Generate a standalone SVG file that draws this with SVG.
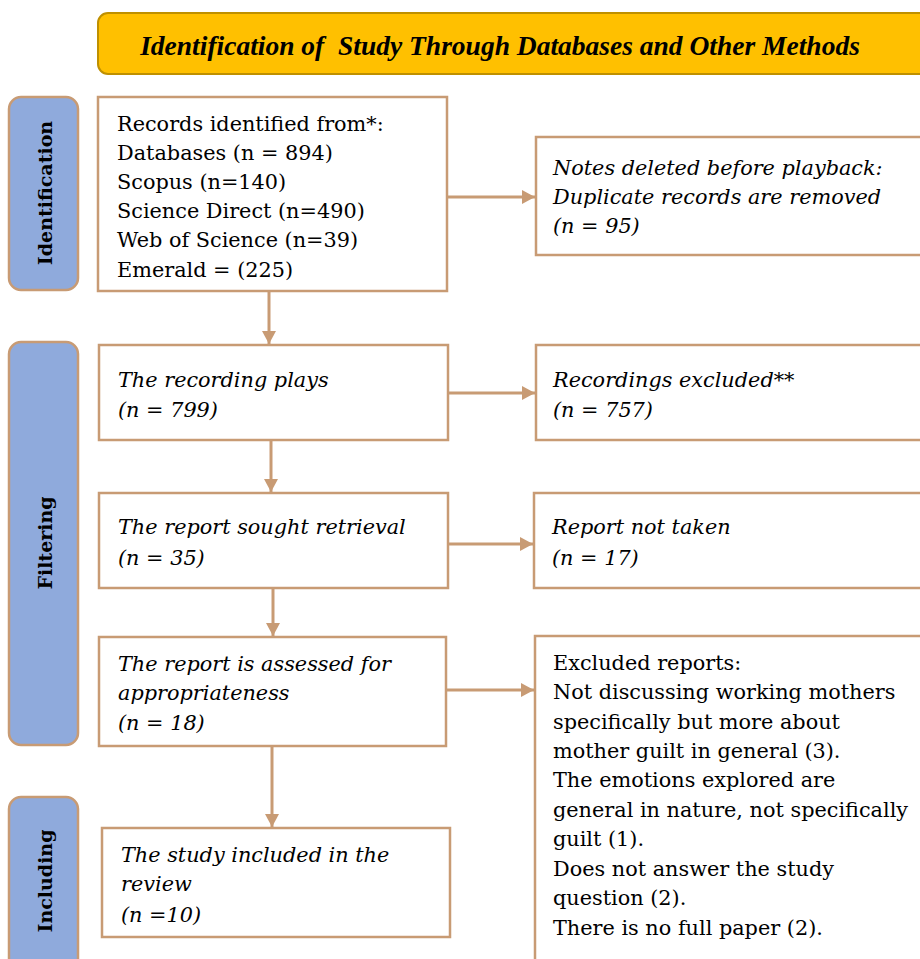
<svg xmlns="http://www.w3.org/2000/svg" width="920" height="959" viewBox="0 0 920 959">
<style>
.box{fill:#fff;stroke:#C89B74;stroke-width:2.5}
.side{fill:#8FAADC;stroke:#C89B74;stroke-width:2.5}
.t{font-family:"DejaVu Serif","Liberation Serif",serif;font-size:20.8px;fill:#000}
.i{font-style:italic}
.sl{font-family:"DejaVu Serif","Liberation Serif",serif;font-size:19px;font-weight:bold;fill:#000}
.c{stroke:#C89B74;stroke-width:3;fill:none}
</style>
<defs>
<marker id="ah" markerUnits="userSpaceOnUse" markerWidth="14" markerHeight="14" refX="13" refY="7" orient="auto">
<path d="M0,0 L13,7 L0,14 z" fill="#C89B74"/>
</marker>
</defs>
<g id="title">
<rect x="98" y="13" width="840" height="61" rx="10" fill="#FFC000" stroke="#BF9000" stroke-width="2"/>
<text x="500" y="55" text-anchor="middle" xml:space="preserve" font-family="Liberation Serif, serif" font-size="27.5" font-weight="bold" font-style="italic">Identification of  Study Through Databases and Other Methods</text>
</g>
<g id="side-identification">
<rect class="side" x="9" y="97" width="69" height="193" rx="12"/>
<text class="sl" transform="translate(52,193) rotate(-90)" text-anchor="middle">Identification</text>
</g>
<g id="side-filtering">
<rect class="side" x="9" y="342" width="69" height="403" rx="12"/>
<text class="sl" transform="translate(52,543) rotate(-90)" text-anchor="middle">Filtering</text>
</g>
<g id="side-including">
<rect class="side" x="9" y="797" width="69" height="180" rx="12"/>
<text class="sl" transform="translate(52,881) rotate(-90)" text-anchor="middle">Including</text>
</g>
<g id="n1">
<rect class="box" x="98" y="97" width="349" height="194"/>
<text class="t" x="117" y="131">Records identified from*:</text>
<text class="t" x="117" y="160">Databases (n = 894)</text>
<text class="t" x="117" y="189">Scopus (n=140)</text>
<text class="t" x="117" y="218">Science Direct (n=490)</text>
<text class="t" x="117" y="247">Web of Science (n=39)</text>
<text class="t" x="117" y="277">Emerald = (225)</text>
</g>
<g id="n2">
<rect class="box" x="536" y="137" width="400" height="118"/>
<text class="t i" x="553" y="175">Notes deleted before playback:</text>
<text class="t i" x="553" y="204">Duplicate records are removed</text>
<text class="t i" x="553" y="233">(n = 95)</text>
</g>
<g id="n3">
<rect class="box" x="99" y="345" width="349" height="95"/>
<text class="t i" x="118" y="387">The recording plays</text>
<text class="t i" x="118" y="417">(n = 799)</text>
</g>
<g id="n4">
<rect class="box" x="536" y="345" width="400" height="95"/>
<text class="t i" x="553" y="387">Recordings excluded**</text>
<text class="t i" x="553" y="417">(n = 757)</text>
</g>
<g id="n5">
<rect class="box" x="99" y="493" width="349" height="95"/>
<text class="t i" x="118" y="534">The report sought retrieval</text>
<text class="t i" x="118" y="565">(n = 35)</text>
</g>
<g id="n6">
<rect class="box" x="534" y="493" width="400" height="95"/>
<text class="t i" x="552" y="534">Report not taken</text>
<text class="t i" x="552" y="565">(n = 17)</text>
</g>
<g id="n7">
<rect class="box" x="99" y="637" width="347" height="109"/>
<text class="t i" x="118" y="671">The report is assessed for</text>
<text class="t i" x="118" y="700">appropriateness</text>
<text class="t i" x="118" y="730">(n = 18)</text>
</g>
<g id="n8">
<rect class="box" x="535" y="636" width="400" height="340"/>
<text class="t" x="553" y="670">Excluded reports:</text>
<text class="t" x="553" y="699">Not discussing working mothers</text>
<text class="t" x="553" y="729">specifically but more about</text>
<text class="t" x="553" y="758">mother guilt in general (3).</text>
<text class="t" x="553" y="787">The emotions explored are</text>
<text class="t" x="553" y="817">general in nature, not specifically</text>
<text class="t" x="553" y="846">guilt (1).</text>
<text class="t" x="553" y="876">Does not answer the study</text>
<text class="t" x="553" y="905">question (2).</text>
<text class="t" x="553" y="935">There is no full paper (2).</text>
</g>
<g id="n9">
<rect class="box" x="102" y="828" width="348" height="109"/>
<text class="t i" x="121" y="862">The study included in the</text>
<text class="t i" x="121" y="891">review</text>
<text class="t i" x="121" y="922">(n =10)</text>
</g>
<g id="connectors">
<line class="c" x1="447" y1="197" x2="535" y2="197" marker-end="url(#ah)"/>
<line class="c" x1="269" y1="291" x2="269" y2="344" marker-end="url(#ah)"/>
<line class="c" x1="448" y1="393" x2="535" y2="393" marker-end="url(#ah)"/>
<line class="c" x1="271" y1="440" x2="271" y2="492" marker-end="url(#ah)"/>
<line class="c" x1="448" y1="544" x2="533" y2="544" marker-end="url(#ah)"/>
<line class="c" x1="273" y1="588" x2="273" y2="636" marker-end="url(#ah)"/>
<line class="c" x1="446" y1="690" x2="534" y2="690" marker-end="url(#ah)"/>
<line class="c" x1="272" y1="746" x2="272" y2="827" marker-end="url(#ah)"/>
</g>
</svg>
